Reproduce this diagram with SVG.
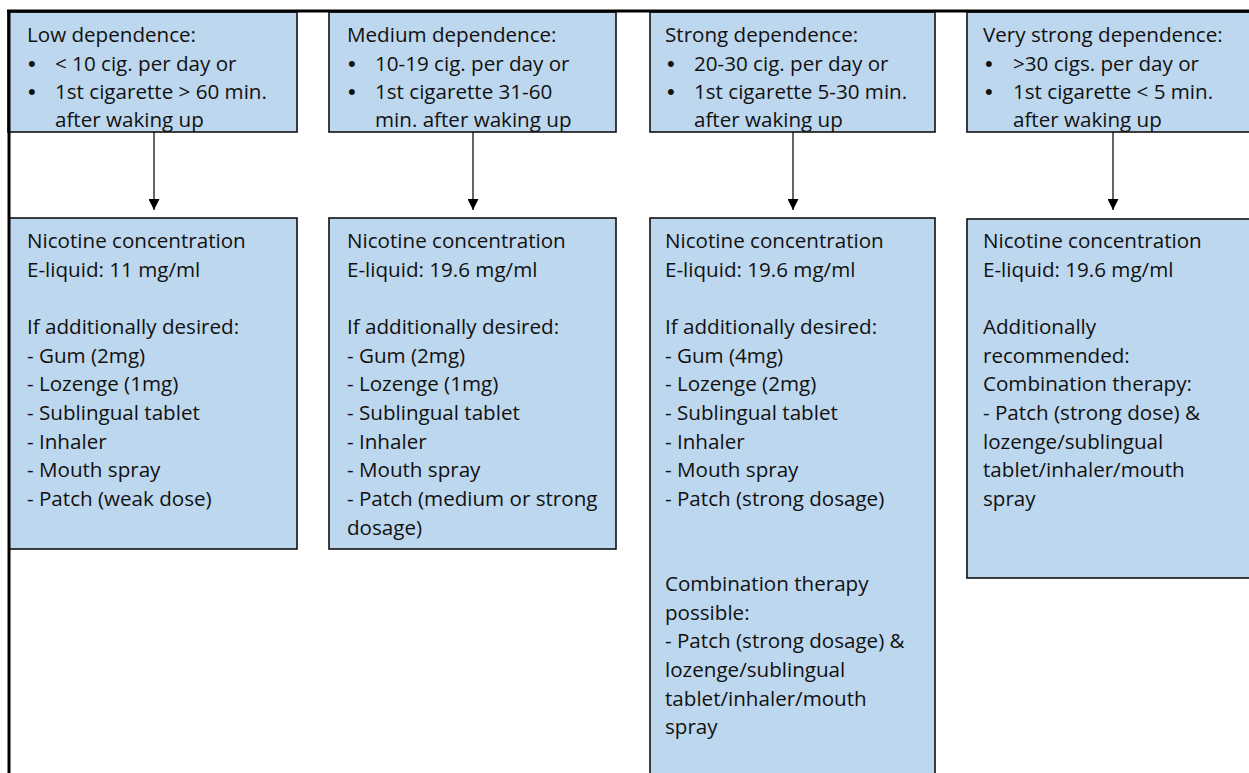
<svg xmlns="http://www.w3.org/2000/svg" width="1249" height="773" viewBox="0 0 1249 773">
<style>
.box{fill:#BDD7EE;stroke:#111;stroke-width:1.6}
.t{font-family:"Open Sans","Liberation Sans",sans-serif;font-size:20.6px;fill:#111}
.b{font-family:"Liberation Sans","DejaVu Sans",sans-serif;font-size:22px;fill:#111}
.frame{stroke:#000;stroke-width:3;fill:none}
.conn{stroke:#000;stroke-width:1.2;fill:none}
</style>
<defs>
<marker id="ah" viewBox="0 0 10 10" refX="10" refY="5" markerWidth="11" markerHeight="11" markerUnits="userSpaceOnUse" orient="auto">
<path d="M0,0 L10,5 L0,10 Z" fill="#000"/>
</marker>
</defs>
<rect width="1249" height="773" fill="#fff"/>

<g id="top1">
<rect class="box" x="8" y="12" width="289" height="120"/>
<text class="t" x="27" y="42">Low dependence:</text>
<text class="b" x="28" y="71">•</text><text class="t" x="55" y="71">&lt; 10 cig. per day or</text>
<text class="b" x="28" y="99">•</text><text class="t" x="55" y="99">1st cigarette &gt; 60 min.</text>
<text class="t" x="55" y="127">after waking up</text>
</g>
<g id="top2">
<rect class="box" x="329" y="12" width="287" height="120"/>
<text class="t" x="347" y="42">Medium dependence:</text>
<text class="b" x="348" y="71">•</text><text class="t" x="375" y="71">10-19 cig. per day or</text>
<text class="b" x="348" y="99">•</text><text class="t" x="375" y="99">1st cigarette 31-60</text>
<text class="t" x="375" y="127">min. after waking up</text>
</g>
<g id="top3">
<rect class="box" x="650" y="12" width="285" height="120"/>
<text class="t" x="665" y="42">Strong dependence:</text>
<text class="b" x="667" y="71">•</text><text class="t" x="694" y="71">20-30 cig. per day or</text>
<text class="b" x="667" y="99">•</text><text class="t" x="694" y="99">1st cigarette 5-30 min.</text>
<text class="t" x="694" y="127">after waking up</text>
</g>
<g id="top4">
<rect class="box" x="967" y="12" width="300" height="120"/>
<text class="t" x="983" y="42">Very strong dependence:</text>
<text class="b" x="985" y="71">•</text><text class="t" x="1013" y="71">&gt;30 cigs. per day or</text>
<text class="b" x="985" y="99">•</text><text class="t" x="1013" y="99">1st cigarette &lt; 5 min.</text>
<text class="t" x="1013" y="127">after waking up</text>
</g>

<g id="bottom1">
<rect class="box" x="9" y="218" width="288" height="331"/>
<text class="t" x="27" y="248">Nicotine concentration</text>
<text class="t" x="27" y="277">E-liquid: 11 mg/ml</text>
<text class="t" x="27" y="334">If additionally desired:</text>
<text class="t" x="27" y="363">- Gum (2mg)</text>
<text class="t" x="27" y="391">- Lozenge (1mg)</text>
<text class="t" x="27" y="420">- Sublingual tablet</text>
<text class="t" x="27" y="449">- Inhaler</text>
<text class="t" x="27" y="477">- Mouth spray</text>
<text class="t" x="27" y="506">- Patch (weak dose)</text>
</g>
<g id="bottom2">
<rect class="box" x="329" y="218" width="287" height="331"/>
<text class="t" x="347" y="248">Nicotine concentration</text>
<text class="t" x="347" y="277">E-liquid: 19.6 mg/ml</text>
<text class="t" x="347" y="334">If additionally desired:</text>
<text class="t" x="347" y="363">- Gum (2mg)</text>
<text class="t" x="347" y="391">- Lozenge (1mg)</text>
<text class="t" x="347" y="420">- Sublingual tablet</text>
<text class="t" x="347" y="449">- Inhaler</text>
<text class="t" x="347" y="477">- Mouth spray</text>
<text class="t" x="347" y="506">- Patch (medium or strong</text>
<text class="t" x="347" y="535">dosage)</text>
</g>
<g id="bottom3">
<rect class="box" x="650" y="218" width="285" height="580"/>
<text class="t" x="665" y="248">Nicotine concentration</text>
<text class="t" x="665" y="277">E-liquid: 19.6 mg/ml</text>
<text class="t" x="665" y="334">If additionally desired:</text>
<text class="t" x="665" y="363">- Gum (4mg)</text>
<text class="t" x="665" y="391">- Lozenge (2mg)</text>
<text class="t" x="665" y="420">- Sublingual tablet</text>
<text class="t" x="665" y="449">- Inhaler</text>
<text class="t" x="665" y="477">- Mouth spray</text>
<text class="t" x="665" y="506">- Patch (strong dosage)</text>
<text class="t" x="665" y="591">Combination therapy</text>
<text class="t" x="665" y="620">possible:</text>
<text class="t" x="665" y="648">- Patch (strong dosage) &amp;</text>
<text class="t" x="665" y="677">lozenge/sublingual</text>
<text class="t" x="665" y="706">tablet/inhaler/mouth</text>
<text class="t" x="665" y="734">spray</text>
</g>
<g id="bottom4">
<rect class="box" x="967" y="219" width="300" height="359"/>
<text class="t" x="983" y="248">Nicotine concentration</text>
<text class="t" x="983" y="277">E-liquid: 19.6 mg/ml</text>
<text class="t" x="983" y="334">Additionally</text>
<text class="t" x="983" y="363">recommended:</text>
<text class="t" x="983" y="391">Combination therapy:</text>
<text class="t" x="983" y="420">- Patch (strong dose) &amp;</text>
<text class="t" x="983" y="449">lozenge/sublingual</text>
<text class="t" x="983" y="477">tablet/inhaler/mouth</text>
<text class="t" x="983" y="506">spray</text>
</g>

<g id="frame">
<line class="frame" x1="7" y1="11" x2="1249" y2="11"/>
<line class="frame" x1="9" y1="10" x2="9" y2="773"/>
</g>

<g id="connectors">
<line class="conn" x1="154" y1="132" x2="154" y2="210" marker-end="url(#ah)"/>
<line class="conn" x1="473" y1="132" x2="473" y2="210" marker-end="url(#ah)"/>
<line class="conn" x1="793" y1="132" x2="793" y2="210" marker-end="url(#ah)"/>
<line class="conn" x1="1113" y1="132" x2="1113" y2="210" marker-end="url(#ah)"/>
</g>
</svg>
